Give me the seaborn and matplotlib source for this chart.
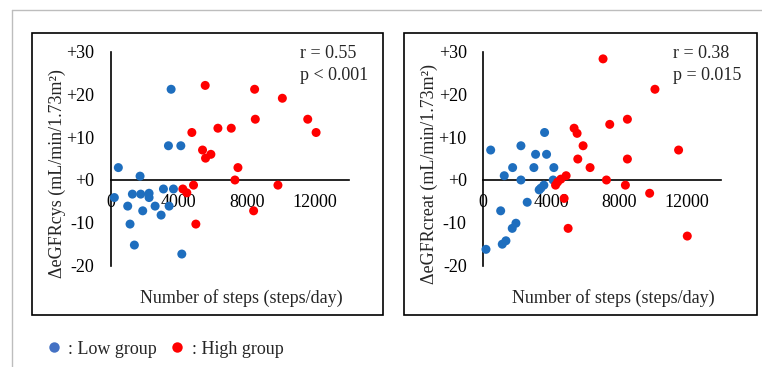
import pandas as pd
import seaborn as sns
import matplotlib.pyplot as plt
from matplotlib.lines import Line2D
from matplotlib.patches import Rectangle

# steps/day and change in eGFR
low_steps_cys = [3544, 3386, 4116, 433, 1713, 197, 1260, 1752, 2245, 2245,
                 3091, 3682, 985, 1870, 2600, 2954, 3426, 1122, 1378, 4174]
low_dcys = [21.2, 8.0, 8.0, 2.9, 0.9, -4.1, -3.3, -3.3, -3.1, -4.1,
            -2.1, -2.1, -6.1, -7.2, -6.1, -8.2, -6.1, -10.3, -15.2, -17.3]
high_steps_cys = [5553, 8466, 10101, 8506, 11597, 12090, 4766, 6302, 7089, 5396,
                  5888, 5573, 7483, 7306, 9841, 4864, 4234, 4470, 8407, 5002]
high_dcys = [22.1, 21.2, 19.1, 14.2, 14.2, 11.1, 11.1, 12.1, 12.1, 7.0,
             6.0, 5.1, 2.9, 0.0, -1.2, -1.2, -2.1, -3.0, -7.2, -10.3]

low_steps_creat = [435, 2218, 3612, 3082, 3729, 1729, 2982, 4159, 1235, 2218,
                   4118, 3571, 3394, 3294, 2588, 1024, 1924, 1706, 1335, 1118, 159]
low_dcreat = [7.0, 8.0, 11.1, 6.0, 6.0, 2.9, 2.9, 2.9, 1.0, 0.0,
              0.0, -1.2, -1.9, -2.3, -5.2, -7.2, -10.1, -11.3, -14.2, -15.0, -16.2]
high_steps_creat = [7059, 10118, 8494, 7453, 5353, 5529, 5882, 11512, 5570, 8494,
                    6294, 4882, 4571, 7259, 4376, 4259, 8376, 9806, 4765, 5000, 12024]
high_dcreat = [28.3, 21.2, 14.2, 13.0, 12.1, 10.9, 8.0, 7.0, 4.9, 4.9,
               2.9, 1.0, 0.2, 0.0, -0.5, -1.2, -1.2, -3.1, -4.3, -11.3, -13.1]

y_ticks = [-20, -10, 0, 10, 20, 30]
y_ticklabels = ['-20', '-10', '+0', '+10', '+20', '+30']
x_ticks = [0, 4000, 8000, 12000]

panels = [
    dict(low_x=low_steps_cys, low_y=low_dcys, high_x=high_steps_cys, high_y=high_dcys,
         ylabel='ΔeGFRcys (mL/min/1.73m²)', stats=['r = 0.55', 'p < 0.001']),
    dict(low_x=low_steps_creat, low_y=low_dcreat, high_x=high_steps_creat, high_y=high_dcreat,
         ylabel='ΔeGFRcreat (mL/min/1.73m²)', stats=['r = 0.38', 'p = 0.015']),
]

BLUE = '#1E6EBE'
RED = '#FF0000'

sns.set_theme(style="white")
plt.rcParams['font.family'] = ['Liberation Serif', 'DejaVu Serif']
plt.rcParams['font.size'] = 13

W, H = 762, 367
fig = plt.figure(figsize=(W / 100, H / 100), dpi=100)

# outer grey border of the original page
fig.add_artist(Line2D([12 / W, 1], [1 - 10 / H, 1 - 10 / H], color='#BDBDBD', lw=1))
fig.add_artist(Line2D([12 / W, 12 / W], [0, 1 - 10 / H], color='#BDBDBD', lw=1))

axes_left = [111, 483.3]
frame_left = [32, 404]
frame_right = [383, 757]

for i, p in enumerate(panels):
    # panel frame
    fig.add_artist(Rectangle((frame_left[i] / W, 1 - 315 / H),
                             (frame_right[i] - frame_left[i]) / W, (315 - 33) / H,
                             fill=False, ec='black', lw=1.2))

    ax = fig.add_axes([axes_left[i] / W, 1 - 265.6 / H, 237.5 / W, 214 / H])
    df = pd.DataFrame({
        'steps': p['low_x'] + p['high_x'],
        'delta': p['low_y'] + p['high_y'],
        'group': ['Low'] * len(p['low_x']) + ['High'] * len(p['high_x']),
    })
    sns.scatterplot(data=df, x='steps', y='delta', hue='group',
                    palette={'Low': BLUE, 'High': RED}, s=42, linewidth=0,
                    legend=False, ax=ax, clip_on=False, zorder=3)

    ax.set_xlim(0, 14000)
    ax.set_ylim(-20, 30)
    ax.set_facecolor('none')
    ax.spines['top'].set_visible(False)
    ax.spines['right'].set_visible(False)
    ax.spines['bottom'].set_position(('data', 0))
    for sp in ['left', 'bottom']:
        ax.spines[sp].set_color('black')
        ax.spines[sp].set_linewidth(1.2)
        ax.spines[sp].set_zorder(1)

    ax.set_xticks(x_ticks)
    ax.set_xticklabels([str(t) for t in x_ticks])
    ax.set_yticks(y_ticks)
    ax.set_yticklabels(y_ticklabels)
    ax.tick_params(axis='x', length=0, pad=10, labelsize=13, colors='black')
    ax.tick_params(axis='y', length=0, pad=12, labelsize=13, colors='black')

    ax.set_xlabel('Number of steps (steps/day)', fontsize=13)
    ax.xaxis.set_label_coords(0.548, -0.11)
    ax.set_ylabel(p['ylabel'], fontsize=13)
    ax.yaxis.set_label_coords(-0.19, 0.43)

    ax.text(0.797, 0.993, p['stats'][0], transform=ax.transAxes, fontsize=13,
            ha='left', va='center')
    ax.text(0.797, 0.89, p['stats'][1], transform=ax.transAxes, fontsize=13,
            ha='left', va='center')

handles = [Line2D([], [], ls='none', marker='o', ms=7.5, mec='none', mfc='#4472C4'),
           Line2D([], [], ls='none', marker='o', ms=7.5, mec='none', mfc=RED)]
fig.legend(handles, [': Low group', ': High group'], ncol=2, frameon=False,
           loc='center left', bbox_to_anchor=(48.6 / W, 1 - 349 / H),
           borderpad=0, borderaxespad=0, handlelength=0.6, handletextpad=0.5,
           columnspacing=0.8, fontsize=13)

fig.savefig('out.png', dpi=100)
